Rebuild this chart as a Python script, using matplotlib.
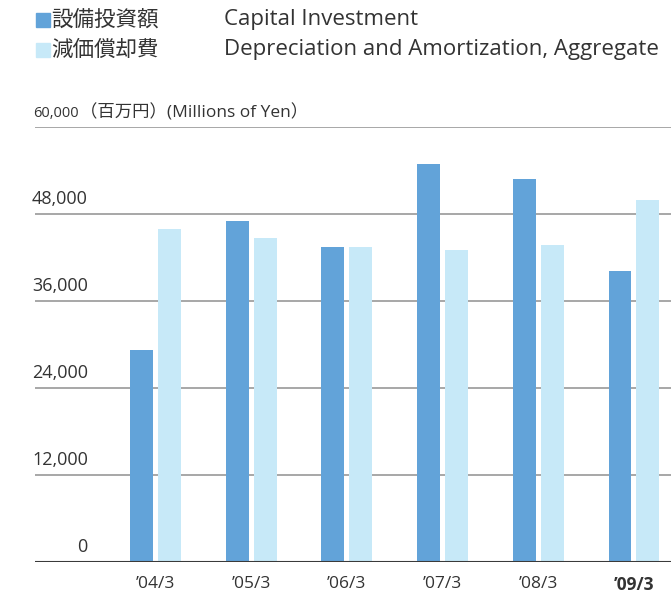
import numpy as np
import matplotlib
matplotlib.use("Agg")
import matplotlib.pyplot as plt
from matplotlib.patches import Rectangle

# data (millions of yen)
years = ["\u201904/3", "\u201905/3", "\u201906/3", "\u201907/3", "\u201908/3", "\u201909/3"]
capex = [29300, 47000, 43400, 54900, 52800, 40200]
depr = [46000, 44700, 43500, 43000, 43700, 49900]
yticks = [0, 12000, 24000, 36000, 48000, 60000]

blue = "#62a3d9"
light = "#c7e9f8"
txt = "#333333"

plt.rcParams['font.family'] = ['Open Sans', 'Noto Sans CJK JP', 'DejaVu Sans']

fig = plt.figure(figsize=(6.71, 5.96), dpi=100)
ax = fig.add_axes([35/671, 34/596, 636/671, 435/596])

x = np.arange(len(years))
w = 0.24
off = 0.146
ax.bar(x - off, capex, width=w, color=blue, zorder=3)
ax.bar(x + off, depr, width=w, color=light, zorder=3)

ax.set_xlim(-1.259, 5.387)
ax.set_ylim(0, 60000)

# gridlines
for v in yticks[1:]:
    ax.axhline(v, color="#a0a0a0", lw=1.3, zorder=1)
ax.axhline(0, color="#3a3a3a", lw=1.5, zorder=4)

# y labels sit above their gridlines
for v in yticks[:-1]:
    ax.annotate(f"{v:,}", xy=(0.083, v), xycoords=ax.get_yaxis_transform(),
                xytext=(0, 4), textcoords="offset points",
                ha="right", va="bottom", fontsize=13, color=txt)
ax.annotate(f"{yticks[-1]:,}", xy=(-0.003, yticks[-1]), xycoords=ax.get_yaxis_transform(),
            xytext=(0, 4), textcoords="offset points",
            ha="left", va="bottom", fontsize=10.5, color=txt)
ax.annotate("（百万円）(Millions of Yen）", xy=(0.07, yticks[-1]),
            xycoords=ax.get_yaxis_transform(),
            xytext=(0, 4), textcoords="offset points",
            ha="left", va="bottom", fontsize=12.5, color=txt)

ax.set_xticks(x)
ax.set_xticklabels(years, fontsize=12.5, color=txt)
ax.get_xticklabels()[-1].set_fontweight("bold")
ax.tick_params(axis="x", length=0, pad=10)
ax.set_yticks([])
for s in ax.spines.values():
    s.set_visible(False)

# legend
rows = [(20, blue, "設備投資額", "Capital Investment"),
        (50, light, "減価償却費", "Depreciation and Amortization, Aggregate")]
for ypx, col, jp, en in rows:
    fig.patches.append(Rectangle((36/671, 1 - (ypx + 7)/596), 14/671, 14/596,
                                 transform=fig.transFigure, color=col))
    fig.text(51/671, 1 - ypx/596, jp, color=txt, fontsize=15.5, va="center",
             family=['Noto Sans CJK JP'])
    fig.text(224/671, 1 - ypx/596, en, color=txt, fontsize=16, va="center")

fig.savefig("out.png", dpi=100)
